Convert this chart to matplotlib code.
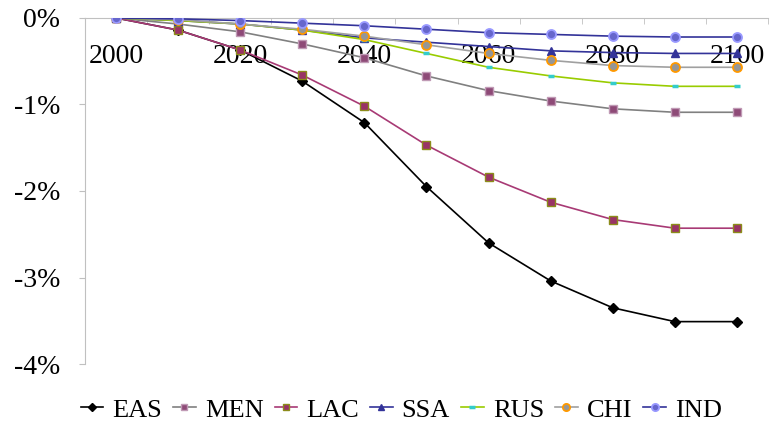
import matplotlib
matplotlib.use("Agg")
import matplotlib.pyplot as plt
from matplotlib.ticker import FixedLocator

plt.rcParams["font.family"] = ["Liberation Serif", "DejaVu Serif"]

# =========================
# DATA (percent change)
# =========================

years = [2000, 2010, 2020, 2030, 2040, 2050, 2060, 2070, 2080, 2090, 2100]
year_labels = ["2000", "", "2020", "", "2040", "", "2060", "", "2080", "", "2100"]

eas = [0.0, -0.14, -0.37, -0.73, -1.21, -1.95, -2.60, -3.04, -3.35, -3.51, -3.51]
men = [0.0, -0.07, -0.16, -0.30, -0.46, -0.67, -0.84, -0.96, -1.05, -1.09, -1.09]
lac = [0.0, -0.14, -0.37, -0.66, -1.02, -1.47, -1.84, -2.13, -2.33, -2.43, -2.43]
ssa = [0.0, -0.03, -0.07, -0.14, -0.23, -0.28, -0.33, -0.38, -0.40, -0.41, -0.41]
rus = [0.0, -0.03, -0.07, -0.14, -0.25, -0.41, -0.57, -0.67, -0.75, -0.79, -0.79]
chi = [0.0, -0.02, -0.07, -0.13, -0.21, -0.31, -0.41, -0.49, -0.55, -0.57, -0.57]
ind = [0.0, -0.01, -0.03, -0.06, -0.09, -0.13, -0.17, -0.19, -0.21, -0.22, -0.22]

y_ticks = [0, -1, -2, -3, -4]
y_labels = ["0%", "-1%", "-2%", "-3%", "-4%"]

# =========================
# PLOT
# =========================

fig = plt.figure(figsize=(7.76, 4.28), dpi=100)
ax = fig.add_axes([0.1095, 0.1495, 0.8802, 0.8085])

x = list(range(len(years)))

ax.plot(x, eas, color="black", lw=1.2, marker="D", ms=5,
        mfc="black", mec="black", label="EAS")
ax.plot(x, men, color="#808080", lw=1.2, marker="s", ms=6,
        mfc="#8E4A77", mec="#C09AB5", label="MEN")
ax.plot(x, lac, color="#A83A75", lw=1.2, marker="s", ms=6,
        mfc="#993366", mec="#8C8C1A", label="LAC")
ax.plot(x, ssa, color="#333399", lw=1.2, marker="^", ms=6,
        mfc="#333399", mec="#333399", label="SSA")
ax.plot(x, rus, color="#99CC00", lw=1.2, marker="_", ms=5, mew=2.5,
        mec="#33CCCC", label="RUS")
ax.plot(x, chi, color="#A0A0A0", lw=1.2, marker="o", ms=6.5,
        mfc="#969696", mec="#FF9900", mew=1.3, label="CHI")
ax.plot(x, ind, color="#333399", lw=1.2, marker="o", ms=6.5,
        mfc="#6666CC", mec="#9999FF", mew=1.3, label="IND")

ax.set_xlim(-0.5, len(years) - 0.5)
ax.set_ylim(-4, 0)

ax.spines["right"].set_visible(False)
ax.spines["top"].set_visible(False)
ax.spines["bottom"].set_position(("data", 0))
ax.spines["bottom"].set_color("#C0C0C0")
ax.spines["left"].set_color("#C0C0C0")
ax.spines["bottom"].set_zorder(0)

ax.set_xticks(x)
ax.set_xticklabels(year_labels)
ax.xaxis.set_minor_locator(FixedLocator([i - 0.5 for i in range(len(years) + 1)]))
ax.tick_params(axis="x", which="major", length=0, pad=19, labelsize=20)
ax.tick_params(axis="x", which="minor", length=4, color="#C0C0C0", direction="out")

ax.set_yticks(y_ticks)
ax.set_yticklabels(y_labels)
ax.tick_params(axis="y", length=4, color="#C0C0C0", labelsize=20, pad=14)

leg = ax.legend(loc="upper center", bbox_to_anchor=(0.463, -0.03), ncol=7,
                frameon=False, fontsize=19, handlelength=0.85,
                handletextpad=0.35, columnspacing=0.42, markerscale=0.8)

fig.savefig("out.png", dpi=100)
